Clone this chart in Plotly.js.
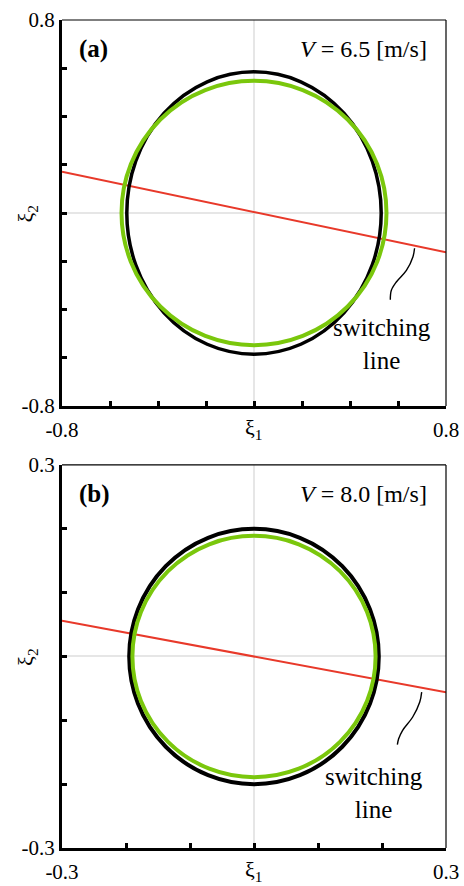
<!DOCTYPE html>
<html><head><meta charset="utf-8">
<script src="https://cdn.plot.ly/plotly-3.0.1.min.js"></script>
<style>html,body{margin:0;padding:0;background:#fff}</style>
</head><body><div id="chart" style="width:464px;height:886px"></div>
<script>
// Panel (a): V = 6.5 m/s
const rangeA = [-0.8, 0.8];
const tickValsA = [-0.8, 0.8];
const tickTextA = ['-0.8', '0.8'];
const minorStepA = 0.2;
const blackSemiA = [0.53, 0.585];   // [x semi-axis, y semi-axis]
const greenSemiA = [0.552, 0.548];
const switchXA = [-0.8, 0.8];
const switchYA = [0.171, -0.163];
const leaderXA = [0.669, 0.662, 0.635, 0.593, 0.572, 0.568];
const leaderYA = [-0.146, -0.182, -0.238, -0.286, -0.321, -0.360];
const labelA = '(a)';
const speedA = '<i>V</i> = 6.5 [m/s]';

// Panel (b): V = 8.0 m/s
const rangeB = [-0.3, 0.3];
const tickValsB = [-0.3, 0.3];
const tickTextB = ['-0.3', '0.3'];
const minorStepB = 0.1;
const blackSemiB = [0.195, 0.2];
const greenSemiB = [0.19, 0.189];
const switchXB = [-0.3, 0.3];
const switchYB = [0.056, -0.056];
const leaderXB = [0.262, 0.259, 0.248, 0.232, 0.226, 0.224];
const leaderYB = [-0.0558, -0.0714, -0.0948, -0.116, -0.129, -0.138];
const labelB = '(b)';
const speedB = '<i>V</i> = 8.0 [m/s]';

const switchText = 'switching<br>line';
const xiX = 'ξ<sub>1</sub>';
const xiY = 'ξ<sub>2</sub>';

const FONT = "'Liberation Serif', 'Times New Roman', Times, serif";
const RED = '#e8392a', GREEN = '#7ac70c', BLACK = '#000000';

const traces = [
  {x: switchXA, y: switchYA, xaxis: 'x', yaxis: 'y', mode: 'lines', line: {color: RED, width: 2}, hoverinfo: 'skip'},
  {x: leaderXA, y: leaderYA, xaxis: 'x', yaxis: 'y', mode: 'lines', line: {color: BLACK, width: 1.4, shape: 'spline'}, hoverinfo: 'skip'},
  {x: switchXB, y: switchYB, xaxis: 'x2', yaxis: 'y2', mode: 'lines', line: {color: RED, width: 2}, hoverinfo: 'skip'},
  {x: leaderXB, y: leaderYB, xaxis: 'x2', yaxis: 'y2', mode: 'lines', line: {color: BLACK, width: 1.4, shape: 'spline'}, hoverinfo: 'skip'}
];

function ellipse(xr, yr, semi, color, w) {
  return {type: 'circle', xref: xr, yref: yr, x0: -semi[0], x1: semi[0], y0: -semi[1], y1: semi[1],
          line: {color: color, width: w}, layer: 'above'};
}
function frame(xr, yr) {
  const xd = xr + ' domain', yd = yr + ' domain';
  return [
    {type: 'line', xref: xd, yref: yd, x0: 0, x1: 1, y0: 1, y1: 1, line: {color: BLACK, width: 1.2}},
    {type: 'line', xref: xd, yref: yd, x0: 1, x1: 1, y0: 0, y1: 1, line: {color: BLACK, width: 1.2}}
  ];
}

const shapes = [
  ellipse('x', 'y', blackSemiA, BLACK, 3.5),
  ellipse('x', 'y', greenSemiA, GREEN, 4),
  ellipse('x2', 'y2', blackSemiB, BLACK, 4),
  ellipse('x2', 'y2', greenSemiB, GREEN, 4),
  ...frame('x', 'y'), ...frame('x2', 'y2')
];

const labFont = {family: FONT, size: 25, color: BLACK};
const vFont = {family: FONT, size: 24, color: BLACK};
const swFont = {family: FONT, size: 25, color: BLACK};
const xiFont = {family: FONT, size: 22, color: BLACK};
const annotations = [
  {xref: 'x domain', yref: 'y domain', x: 0.04, y: 0.925, text: '<b>' + labelA + '</b>', showarrow: false, xanchor: 'left', yanchor: 'middle', font: labFont},
  {xref: 'x domain', yref: 'y domain', x: 0.957, y: 0.925, text: speedA, showarrow: false, xanchor: 'right', yanchor: 'middle', font: vFont},
  {xref: 'x domain', yref: 'y domain', x: 0.834, y: 0.16, text: switchText, showarrow: false, xanchor: 'center', yanchor: 'middle', font: swFont},
  {xref: 'x domain', yref: 'y domain', x: 0.5, y: -0.06, text: xiX, showarrow: false, xanchor: 'center', yanchor: 'middle', font: xiFont},
  {xref: 'x domain', yref: 'y domain', x: -0.09, y: 0.5, text: xiY, showarrow: false, textangle: -90, xanchor: 'center', yanchor: 'middle', font: xiFont},
  {xref: 'x2 domain', yref: 'y2 domain', x: 0.04, y: 0.925, text: '<b>' + labelB + '</b>', showarrow: false, xanchor: 'left', yanchor: 'middle', font: labFont},
  {xref: 'x2 domain', yref: 'y2 domain', x: 0.957, y: 0.925, text: speedB, showarrow: false, xanchor: 'right', yanchor: 'middle', font: vFont},
  {xref: 'x2 domain', yref: 'y2 domain', x: 0.813, y: 0.1436, text: switchText, showarrow: false, xanchor: 'center', yanchor: 'middle', font: swFont},
  {xref: 'x2 domain', yref: 'y2 domain', x: 0.5, y: -0.06, text: xiX, showarrow: false, xanchor: 'center', yanchor: 'middle', font: xiFont},
  {xref: 'x2 domain', yref: 'y2 domain', x: -0.09, y: 0.5, text: xiY, showarrow: false, textangle: -90, xanchor: 'center', yanchor: 'middle', font: xiFont}
];

function axis(range, vals, text, step, extra) {
  return Object.assign({
    range: range, tickmode: 'array', tickvals: vals, ticktext: text,
    ticks: 'inside', ticklen: 5, tickwidth: 3, tickcolor: BLACK,
    minor: {dtick: step, tick0: 0, ticks: 'inside', ticklen: 5, tickwidth: 3, tickcolor: BLACK, showgrid: false},
    showline: true, linewidth: 3, linecolor: BLACK, mirror: false,
    showgrid: false, zeroline: true, zerolinecolor: '#e6e6e6', zerolinewidth: 2,
    tickfont: {family: FONT, size: 21, color: BLACK}, fixedrange: true
  }, extra);
}

const layout = {
  width: 464, height: 886,
  margin: {l: 62, r: 18, t: 20, b: 38},
  paper_bgcolor: '#fff', plot_bgcolor: '#fff',
  showlegend: false,
  font: {family: FONT, color: BLACK},
  xaxis: axis(rangeA, tickValsA, tickTextA, minorStepA, {anchor: 'y', domain: [0, 1], ticklabelstandoff: 3}),
  yaxis: axis(rangeA, tickValsA, tickTextA, minorStepA, {anchor: 'x', domain: [0.5338, 1]}),
  xaxis2: axis(rangeB, tickValsB, tickTextB, minorStepB, {anchor: 'y2', domain: [0, 1], ticklabelstandoff: 3}),
  yaxis2: axis(rangeB, tickValsB, tickTextB, minorStepB, {anchor: 'x2', domain: [0, 0.4626]}),
  shapes: shapes,
  annotations: annotations
};

Plotly.newPlot('chart', traces, layout, {displayModeBar: false, staticPlot: true});
</script></body></html>
